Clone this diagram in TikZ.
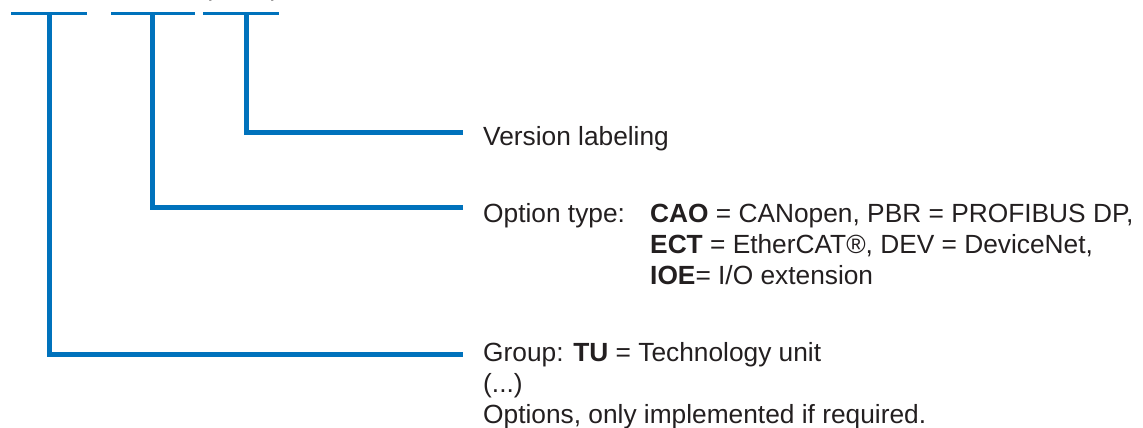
\documentclass[tikz,border=0pt]{standalone}
\usepackage{fontspec}
\setmainfont{Liberation Sans}
\definecolor{barblue}{RGB}{0,114,188}
\definecolor{txt}{RGB}{35,31,32}
\begin{document}
\begin{tikzpicture}[x=1pt,y=-1pt,
  lbl/.style={anchor=base west,inner sep=0pt,text=txt,font=\fontsize{26.3}{30}\selectfont},
  stem/.style={draw=barblue,line width=5pt,line join=miter,line cap=butt},
  topbar/.style={draw=barblue,line width=3pt,line cap=butt}]
\useasboundingbox (0,0) rectangle (1143,428);
% top bars
\draw[topbar] (11,13.5) -- (87,13.5);
\draw[topbar] (111,13.5) -- (195,13.5);
\draw[topbar] (203,13.5) -- (279,13.5);
% clipped label above third bar
\node[lbl] (par) at (203,-4.5) {(\hspace{59pt})};
% text
\node[lbl] (ver) at (483,145) {Version labeling};
\node[lbl] (opt) at (483,222) {Option type:};
\node[lbl] (cao) at (650,222) {\textbf{CAO} = CANopen, PBR = PROFIBUS DP,};
\node[lbl] (ect) at (650,253) {\textbf{ECT} = EtherCAT\textregistered, DEV = DeviceNet,};
\node[lbl] (ioe) at (650,284) {\textbf{IOE}= I/O extension};
\node[lbl] (grp) at (483,361) {Group: \textbf{TU} = Technology unit};
\node[lbl] (dots) at (483,392) {(...)};
\node[lbl] (opts) at (483,423) {Options, only implemented if required.};
% connector coordinates
\coordinate (t1) at (49,13.5);
\coordinate (t2) at (152.5,13.5);
\coordinate (t3) at (246.5,13.5);
\coordinate (e1) at (463,354.5);
\coordinate (e2) at (463,207.5);
\coordinate (e3) at (463,132.5);
\draw[stem] (t1) |- (e1);
\draw[stem] (t2) |- (e2);
\draw[stem] (t3) |- (e3);
\end{tikzpicture}
\end{document}
